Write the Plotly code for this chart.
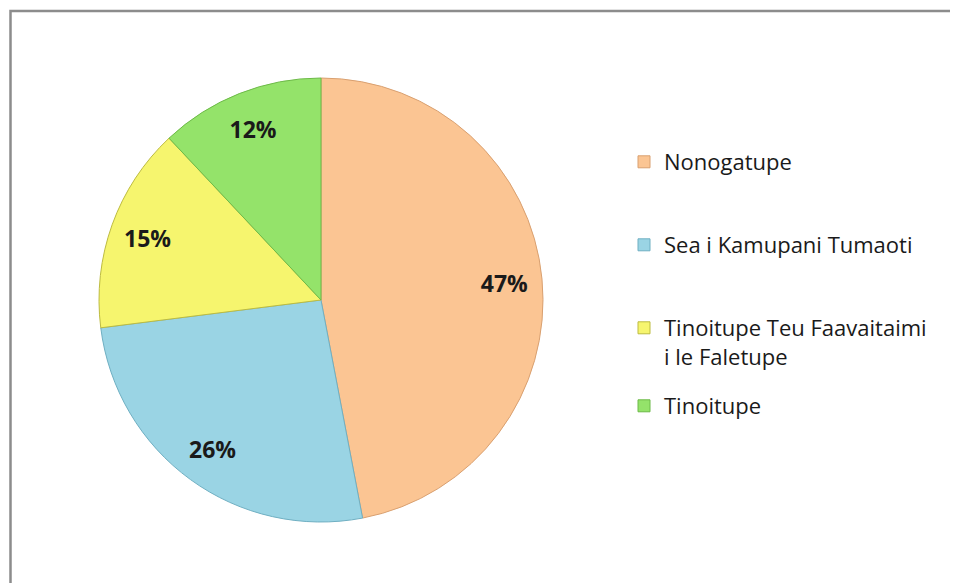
import plotly.graph_objects as go

categories = ["Nonogatupe", "Sea i Kamupani Tumaoti",
              "Tinoitupe Teu Faavaitaimi<br>i le Faletupe", "Tinoitupe"]
values = [47, 26, 15, 12]
colors = ["#FBC593", "#9AD4E4", "#F6F56E", "#94E36A"]
edge_colors = ["#D9A070", "#6FAFC2", "#BDBB40", "#6DBA48"]

W, H = 958, 583
OFF = 8  # page body margin
cx, cy, R = 321 - OFF, 300 - OFF, 222
dom = dict(x=[(cx - R) / W, (cx + R) / W],
           y=[(H - cy - R) / H, (H - cy + R) / H])

fig = go.Figure()

# filled pie (no text)
fig.add_trace(go.Pie(
    labels=categories, values=values, sort=False, direction="clockwise",
    rotation=0, showlegend=False, textinfo="none",
    marker=dict(colors=colors, line=dict(color=edge_colors, width=1)),
    domain=dom, hoverinfo="label+percent",
))

# transparent ring carrying the percentage labels near the rim
fig.add_trace(go.Pie(
    labels=categories, values=values, sort=False, direction="clockwise",
    rotation=0, showlegend=False, hole=0.66,
    marker=dict(colors=["rgba(0,0,0,0)"] * len(values), line=dict(width=0)),
    texttemplate="%{percent:.0%}", textposition="inside",
    insidetextorientation="horizontal",
    textfont=dict(family="Open Sans", size=23, color="#1a1a1a", weight="bold"),
    domain=dom, hoverinfo="skip",
))

# legend entries (one legend per item to reproduce the spacing)
legend_centers = [162, 245, 328, 406]
for i, (cat, col, ec) in enumerate(zip(categories, colors, edge_colors)):
    lname = "legend" if i == 0 else f"legend{i+1}"
    fig.add_trace(go.Scatter(
        x=[None], y=[None], mode="markers", name=cat,
        marker=dict(symbol="square", size=12, color=col, line=dict(color=ec, width=1)),
        legend=lname, showlegend=True, hoverinfo="skip",
    ))

layout_legends = {}
for i, yc in enumerate(legend_centers):
    lname = "legend" if i == 0 else f"legend{i+1}"
    layout_legends[lname] = dict(
        x=(664 - OFF - 40) / W, xanchor="left",
        y=1 - (yc - OFF - 21) / H, yanchor="top",
        font=dict(family="Open Sans", size=22, color="#1a1a1a"),
        itemwidth=30, valign="top", bgcolor="rgba(0,0,0,0)",
    )

fig.update_layout(
    width=W, height=H, margin=dict(l=0, r=0, t=0, b=0),
    paper_bgcolor="white", plot_bgcolor="white",
    xaxis=dict(visible=False), yaxis=dict(visible=False),
    shapes=[dict(type="rect", xref="paper", yref="paper",
                 x0=(10.5 - OFF) / W, x1=1.1, y0=-0.1, y1=1 - (11 - OFF) / H,
                 line=dict(color="#8C8C8C", width=2.5))],
    **layout_legends,
)

fig.write_html("out.html")
